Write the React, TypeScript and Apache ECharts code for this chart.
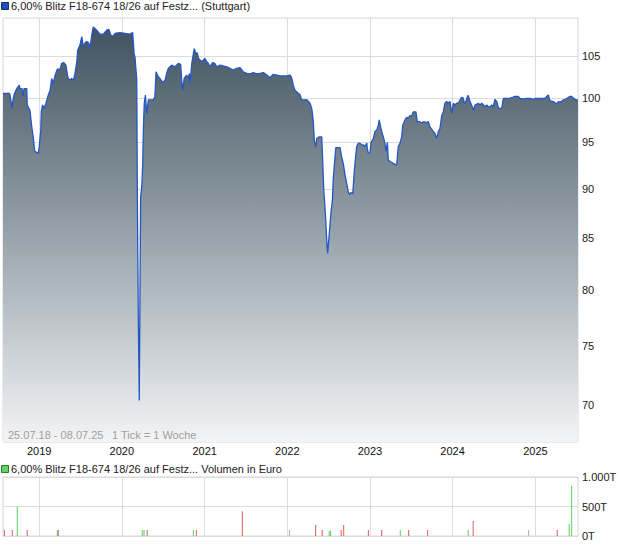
import React, { useEffect, useRef } from 'react';
import * as echarts from 'echarts';

const START = Date.UTC(2018, 6, 25);
const END = Date.UTC(2025, 6, 8);
const DAY = 86400000;

// days since 25.07.2018
const priceDays = [
  0, 28, 31, 40, 43, 49, 57, 63, 72, 75,
  84, 87, 93, 105, 107, 119, 127, 134, 140, 156,
  160, 167, 169, 175, 181, 190, 200, 208, 215, 222,
  230, 240, 252, 259, 269, 278, 286, 293, 303, 311,
  318, 326, 330, 340, 348, 355, 362, 370, 379, 384,
  392, 399, 414, 428, 443, 458, 468, 476, 485, 495,
  517, 561, 573, 579, 583, 591, 593, 598, 602, 605,
  608, 613, 617, 620, 624, 629, 635, 642, 664, 671,
  676, 686, 694, 705, 716, 723, 730, 745, 760, 774,
  785, 789, 794, 800, 811, 819, 823, 826, 834, 841,
  845, 851, 858, 864, 878, 892, 900, 907, 914, 926,
  936, 944, 959, 973, 988, 1003, 1017, 1032, 1047, 1061,
  1077, 1091, 1106, 1121, 1135, 1150, 1165, 1179, 1194, 1209,
  1224, 1253, 1268, 1275, 1282, 1290, 1304, 1312, 1319, 1342,
  1356, 1364, 1371, 1375, 1381, 1386, 1397, 1408, 1412, 1417,
  1421, 1425, 1430, 1434, 1439, 1444, 1449, 1455, 1459, 1463,
  1470, 1489, 1496, 1503, 1511, 1518, 1525, 1530, 1536, 1545,
  1551, 1555, 1562, 1570, 1577, 1585, 1592, 1599, 1607, 1609,
  1614, 1621, 1626, 1636, 1643, 1651, 1658, 1662, 1668, 1673,
  1680, 1687, 1692, 1698, 1702, 1710, 1724, 1739, 1746, 1754,
  1761, 1766, 1776, 1783, 1790, 1798, 1805, 1812, 1824, 1830,
  1842, 1850, 1857, 1872, 1879, 1886, 1901, 1908, 1916, 1923,
  1930, 1938, 1945, 1952, 1960, 1967, 1975, 1982, 1989, 1997,
  2004, 2011, 2019, 2026, 2033, 2038, 2045, 2051, 2055, 2063,
  2070, 2078, 2085, 2093, 2100, 2107, 2115, 2122, 2129, 2137,
  2144, 2151, 2159, 2166, 2173, 2181, 2188, 2195, 2203, 2210,
  2225, 2240, 2254, 2262, 2276, 2284, 2298, 2313, 2328, 2343,
  2350, 2372, 2394, 2402, 2409, 2416, 2431, 2446, 2453, 2460,
  2475, 2490, 2505, 2512, 2519, 2527, 2534, 2540,
];

const prices = [
  100.55, 100.55, 100.35, 98.8, 99.6, 100.4, 100.9, 101.2, 101.5, 101.1,
  101.1, 100.2, 101.1, 101.1, 99.2, 98.6, 96.7, 95.5, 94.0, 93.8,
  94.5, 96.35, 98.4, 99.2, 98.8, 99.4, 100.35, 100.9, 102.3, 101.7,
  102.7, 103.4, 103.4, 104.1, 104.2, 103.9, 102.5, 102.1, 102.3, 102.1,
  102.9, 104.3, 105.7, 106.35, 107.4, 106.1, 106.6, 106.8, 106.6, 105.9,
  107.6, 108.6, 108.2, 107.7, 107.7, 108.2, 108.3, 107.6, 107.4, 107.8,
  107.9, 107.7, 107.9, 105.3, 104.9, 102.1, 91.25, 76.9, 70.4, 79.1,
  89.2, 90.2, 92.5, 96.35, 99.4, 100.35, 98.2, 99.8, 99.8, 100.15,
  103.1, 102.5, 102.3, 101.8, 102.1, 102.9, 103.5, 103.9, 103.7, 104.1,
  104.0, 102.1, 100.9, 102.3, 102.7, 102.3, 102.9, 101.7, 104.1, 105.3,
  105.9, 105.3, 105.4, 104.7, 104.3, 104.7, 104.3, 104.1, 103.7, 104.2,
  104.1, 103.7, 103.9, 103.8, 103.7, 103.5, 103.3, 103.5, 103.6, 103.1,
  102.9, 102.85, 103.0, 102.85, 102.9, 103.0, 102.7, 102.4, 102.8, 102.7,
  102.6, 102.6, 102.7, 102.4, 101.5, 100.9, 100.55, 100.4, 99.8, 99.8,
  99.4, 98.8, 97.3, 95.2, 94.5, 95.4, 95.6, 95.6, 93.05, 89.9,
  88.5, 87.1, 84.8, 83.5, 84.8, 86.2, 87.6, 88.8, 91.1, 92.3,
  94.4, 94.4, 93.4, 92.7, 91.45, 90.6, 89.7, 89.4, 89.6, 89.5,
  91.6, 92.7, 94.5, 94.9, 94.9, 94.7, 94.7, 94.5, 94.9, 94.3,
  93.8, 93.8, 95.0, 95.4, 96.2, 96.35, 96.9, 97.5, 96.7, 96.2,
  95.6, 94.9, 94.0, 95.0, 93.05, 92.9, 92.7, 92.5, 94.5, 94.9,
  95.6, 96.9, 97.5, 97.8, 97.7, 98.0, 97.9, 98.4, 98.4, 97.3,
  97.3, 97.1, 97.3, 97.2, 97.3, 96.7, 96.2, 96.0, 95.4, 96.2,
  96.5, 98.0, 98.4, 99.4, 99.6, 99.4, 99.6, 98.2, 99.4, 99.2,
  99.4, 99.4, 99.77, 100.1, 100.0, 99.4, 99.6, 100.15, 100.3, 99.6,
  99.2, 98.6, 99.2, 99.3, 99.4, 99.2, 99.4, 99.2, 99.0, 99.2,
  99.0, 98.95, 99.2, 99.0, 99.85, 99.6, 98.9, 98.8, 98.8, 99.95,
  99.95, 100.0, 100.1, 100.2, 100.2, 99.95, 99.9, 99.95, 99.95, 99.85,
  99.95, 99.95, 99.95, 100.2, 100.35, 99.7, 99.6, 99.3, 99.6, 99.5,
  99.77, 99.95, 100.2, 100.2, 100.0, 99.85, 99.77, 99.8,
];

const priceTicks = [70, 75, 80, 85, 90, 95, 100, 105];
const PRICE_MIN = 67.08;
const PRICE_MAX = 109.74;
const yearTicks = [2019, 2020, 2021, 2022, 2023, 2024, 2025];

// volume (in thousand euro)
const volDays = [6, 41, 63, 107, 240, 244, 615, 623, 637, 841, 854, 1057, 1265, 1381, 1410, 1441, 1447, 1494, 1505, 1614, 1673, 1755, 1792, 1876, 2055, 2077, 2322, 2448, 2501, 2512];
const volValues = [100, 100, 500, 100, 100, 100, 100, 100, 100, 100, 100, 420, 100, 185, 100, 90, 90, 100, 185, 100, 100, 100, 100, 100, 100, 255, 100, 100, 205, 850];
const volDirections = ['down', 'down', 'up', 'down', 'up', 'down', 'up', 'up', 'down', 'up', 'down', 'down', 'flat', 'down', 'down', 'up', 'up', 'down', 'down', 'down', 'down', 'up', 'down', 'down', 'up', 'down', 'flat', 'down', 'up', 'up'];
const volTicks = [0, 500, 1000];

const FONT = '"Liberation Sans", Arial, Helvetica, sans-serif';
const dirColor: Record<string, string> = { up: '#5ccf5c', down: '#e05a5a', flat: '#b0b0b0' };

function buildOption() {
  const n = Math.min(priceDays.length, prices.length);
  const priceData: [number, number][] = [];
  for (let i = 0; i < n; i++) priceData.push([START + priceDays[i] * DAY, Math.log(prices[i])]);
  const volData = volDays.map((d, i) => ({
    value: [START + d * DAY, volValues[i]],
    itemStyle: { color: dirColor[volDirections[i]] },
  }));
  const yearStamps = yearTicks.map((y) => Date.UTC(y, 0, 1));
  const logTicks = priceTicks.map((p) => Math.log(p));
  const gridLine = { show: true, lineStyle: { color: '#dcdcdc', width: 1 } };

  return {
    animation: false,
    textStyle: { fontFamily: FONT },
    grid: [
      { left: 3, right: 42, top: 18, height: 424, show: true, borderColor: '#d6d6d6', borderWidth: 1, backgroundColor: '#ffffff' },
      { left: 3, right: 42, top: 477, height: 59, show: true, borderColor: '#d6d6d6', borderWidth: 1, backgroundColor: '#ffffff' },
    ],
    xAxis: [
      {
        type: 'value', gridIndex: 0, min: START, max: END,
        axisLine: { show: false },
        axisTick: { show: false, customValues: yearStamps },
        splitLine: gridLine,
        axisLabel: {
          customValues: yearStamps,
          formatter: (v: number) => String(new Date(v).getUTCFullYear()),
          color: '#111', fontSize: 11, margin: 3, fontFamily: FONT,
        },
      },
      {
        type: 'value', gridIndex: 1, min: START, max: END,
        axisLine: { show: false },
        axisTick: { show: false, customValues: yearStamps },
        splitLine: gridLine,
        axisLabel: { show: false, customValues: yearStamps },
      },
    ],
    yAxis: [
      {
        type: 'value', gridIndex: 0, position: 'right',
        min: Math.log(PRICE_MIN), max: Math.log(PRICE_MAX),
        axisLine: { show: false },
        axisTick: { show: false, customValues: logTicks },
        splitLine: gridLine,
        axisLabel: {
          customValues: logTicks,
          formatter: (v: number) => String(Math.round(Math.exp(v))),
          color: '#222', fontSize: 11, margin: 4, fontFamily: FONT,
        },
      },
      {
        type: 'value', gridIndex: 1, position: 'right', min: 0, max: 1000,
        axisLine: { show: false },
        axisTick: { show: false, customValues: volTicks },
        splitLine: gridLine,
        axisLabel: {
          customValues: volTicks,
          formatter: (v: number) => (v === 1000 ? '1.000T' : v + 'T'),
          color: '#222', fontSize: 11, margin: 4, fontFamily: FONT,
        },
      },
    ],
    series: [
      {
        type: 'line', xAxisIndex: 0, yAxisIndex: 0, data: priceData,
        showSymbol: false, symbol: 'none',
        lineStyle: { color: '#2457c5', width: 1.3 },
        areaStyle: {
          color: new echarts.graphic.LinearGradient(0, 0, 0, 1, [
            { offset: 0, color: '#415360' },
            { offset: 0.5, color: '#97a3ab' },
            { offset: 1, color: '#f3f4f6' },
          ]),
          opacity: 1,
        },
        z: 3,
      },
      {
        type: 'bar', xAxisIndex: 1, yAxisIndex: 1, data: volData,
        barWidth: 1, barMinWidth: 1,
      },
    ],
    graphic: [
      { type: 'rect', z: 100, shape: { x: 1.5, y: 2.5, width: 7, height: 7 }, style: { fill: '#1f4fbf', stroke: '#142f78', lineWidth: 1 } },
      { type: 'text', z: 100, x: 11, y: 6, style: { text: '6,00% Blitz F18-674 18/26 auf Festz... (Stuttgart)', fill: '#222', font: '11px ' + FONT, verticalAlign: 'middle', align: 'left' } },
      { type: 'rect', z: 100, shape: { x: 1.5, y: 465.5, width: 7, height: 7 }, style: { fill: '#5fd35f', stroke: '#2e7a2e', lineWidth: 1 } },
      { type: 'text', z: 100, x: 11, y: 469, style: { text: '6,00% Blitz F18-674 18/26 auf Festz... Volumen in Euro', fill: '#222', font: '11px ' + FONT, verticalAlign: 'middle', align: 'left' } },
      { type: 'text', z: 100, x: 8, y: 434.5, style: { text: '25.07.18 - 08.07.25', fill: '#a39f99', font: '11px ' + FONT, verticalAlign: 'middle', align: 'left' } },
      { type: 'text', z: 100, x: 112, y: 434.5, style: { text: '1 Tick = 1 Woche', fill: '#a39f99', font: '11px ' + FONT, verticalAlign: 'middle', align: 'left' } },
    ],
  };
}

export default function App() {
  const ref = useRef<HTMLDivElement>(null);
  useEffect(() => {
    if (!ref.current) return;
    const chart = echarts.init(ref.current, null, { renderer: 'svg' });
    chart.setOption(buildOption() as any);
    return () => chart.dispose();
  }, []);
  return <div ref={ref} style={{ position: 'absolute', left: 0, top: 0, width: 620, height: 546 }} />;
}
